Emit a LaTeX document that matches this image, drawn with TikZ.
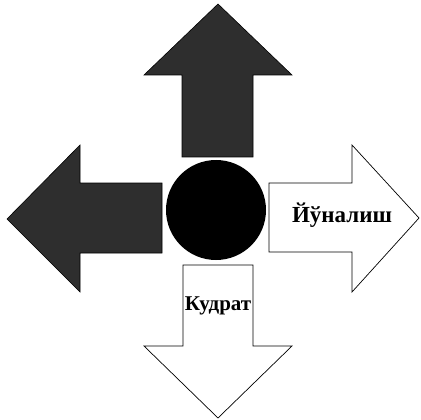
\documentclass[tikz,border=0pt]{standalone}
\usepackage{fontspec}
\setmainfont{Liberation Serif}
\begin{document}
\begin{tikzpicture}[x=1pt,y=-1pt,
  darkarrow/.style={fill=black!82,draw=black,line width=0.6pt,line join=miter},
  lightarrow/.style={fill=white,draw=black,line width=0.7pt,line join=miter},
  lbl/.style={font=\bfseries,inner sep=0pt}]
\useasboundingbox (0,0) rectangle (421,420);
% up arrow
\draw[darkarrow] (218,4) -- (292,75) -- (253,75) -- (253,157) -- (182,157) -- (182,75) -- (144,75) -- cycle;
% left arrow
\draw[darkarrow] (7,219) -- (80,145) -- (80,183) -- (162,183) -- (162,253) -- (80,253) -- (80,292) -- cycle;
% right arrow
\draw[lightarrow] (419,218) -- (352,145) -- (352,183) -- (269,183) -- (269,252) -- (352,252) -- (352,292) -- cycle;
% down arrow
\draw[lightarrow] (218,418) -- (292,346) -- (253,346) -- (253,265) -- (183,265) -- (183,346) -- (144,346) -- cycle;
% centre circle
\node[circle,fill=black,minimum size=100pt,inner sep=0pt] (c) at (216,210) {};
% labels
\node[lbl,font=\fontsize{23}{25}\selectfont\bfseries] (r) at (342,215) {Йўналиш};
\node[lbl,font=\fontsize{21}{23}\selectfont\bfseries] (d) at (218,306) {Кудрат};
\end{tikzpicture}
\end{document}
